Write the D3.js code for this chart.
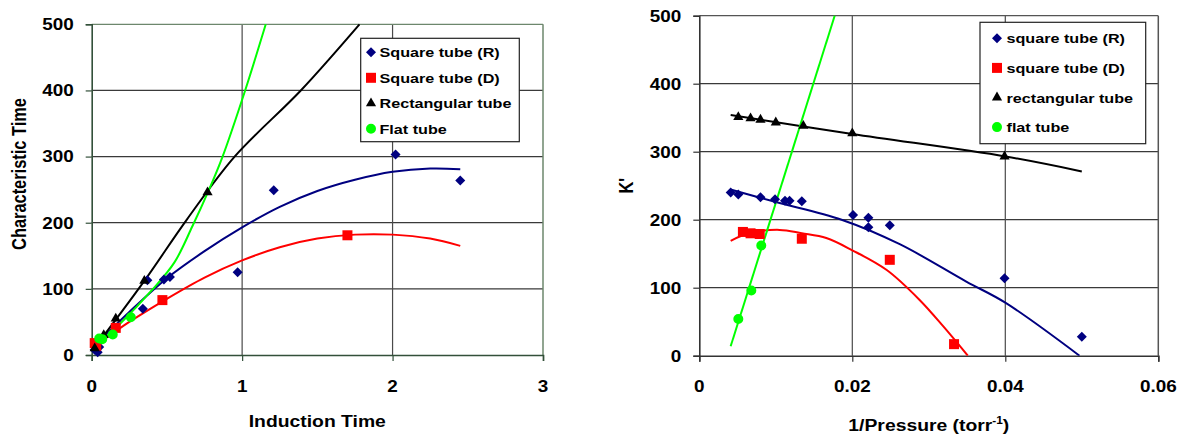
<!DOCTYPE html>
<html>
<head>
<meta charset="utf-8">
<script src="https://cdn.jsdelivr.net/npm/d3@7"></script>
<style>
  body { margin: 0; background: #fff; }
  text { font-family: "Liberation Sans", Arial, sans-serif; font-weight: bold; fill: #000; }
</style>
</head>
<body>
<svg width="1191" height="439"></svg>
<script>
  // ---- left panel: characteristic time vs induction time ----
  var indTicksX = [0, 1, 2, 3];
  var indTicksY = [0, 100, 200, 300, 400, 500];
  var indSqR = [[0.02, 8], [0.04, 4], [0.05, 12], [0.34, 70], [0.37, 113], [0.48, 114], [0.52, 118], [0.97, 125], [1.21, 249], [2.02, 303], [2.45, 264]];
  var indSqD = [[0.02, 18], [0.03, 14], [0.16, 41], [0.47, 83], [1.70, 181]];
  var indRect = [[0.02, 10], [0.08, 30], [0.16, 55], [0.35, 112], [0.77, 246]];
  var indFlat = [[0.05, 25], [0.07, 24], [0.14, 31], [0.26, 57]];
  var indFitR = [[0, 10], [0.25, 65], [0.5, 116], [0.75, 157], [1.0, 193], [1.25, 224], [1.5, 248], [1.75, 265], [2.0, 277], [2.25, 282], [2.45, 281]];
  var indFitD = [[0, 10], [0.25, 50], [0.5, 85], [0.75, 117], [1.0, 143], [1.25, 163], [1.5, 176], [1.75, 182], [2.0, 182], [2.25, 176], [2.45, 165]];
  var indFitRect = [[0, 5], [0.35, 112], [0.63, 204], [0.95, 300], [1.39, 400], [1.78, 500]];
  var indFitFlat = [[0.03, 15], [0.2, 50], [0.4, 98], [0.55, 140], [0.67, 195], [0.78, 250], [0.87, 300], [1.02, 400], [1.157, 500]];
  var indNames = ["Square tube (R)", "Square tube (D)", "Rectangular tube", "Flat tube"];

  // ---- right panel: K' vs 1/pressure ----
  var presTicksX = [0, 0.02, 0.04, 0.06];
  var presTicksY = [0, 100, 200, 300, 400, 500];
  var presSqR = [[0.0041, 240], [0.0051, 237], [0.0080, 233], [0.0099, 230], [0.0112, 228], [0.0118, 228], [0.0134, 227], [0.0201, 207], [0.0221, 203], [0.0221, 189], [0.0249, 192], [0.0399, 114], [0.050, 28]];
  var presSqD = [[0.0057, 182], [0.0067, 180], [0.0079, 179], [0.0134, 172], [0.0249, 141], [0.0333, 17]];
  var presRect = [[0.0051, 351], [0.0067, 349], [0.0080, 347], [0.0100, 343], [0.0136, 338], [0.0200, 327], [0.0399, 293]];
  var presFlat = [[0.0051, 54], [0.0068, 96], [0.0081, 162]];
  var presFitR = [[0.0042, 244], [0.01, 226], [0.0186, 200], [0.0262, 164], [0.0349, 109], [0.04, 78], [0.0497, 0]];
  var presFitD = [[0.0041, 169], [0.0065, 180], [0.0105, 185], [0.0134, 180], [0.0166, 173], [0.0200, 155], [0.0245, 126], [0.0288, 82], [0.0319, 43], [0.0351, 0]];
  var presFitRect = [[0.0041, 354], [0.02, 326], [0.04, 293], [0.05, 271]];
  var presFitFlat = [[0.0041, 14], [0.0177, 500]];
  var presNames = ["square tube (R)", "square tube (D)", "rectangular tube", "flat tube"];

  var colors = ["#000080", "#ff0000", "#000000", "#00ff00"];
  var shapes = ["diamond", "square", "triangle", "circle"];
  var sx = 1.18; // the reference is stretched sideways

  var svg = d3.select("svg");

  function marker( shape, r )
  {
    if ( shape == "diamond" ) return d3.symbol( d3.symbolSquare, r * r * 0.5 )();
    if ( shape == "square" ) return d3.symbol( d3.symbolSquare, r * r )();
    if ( shape == "triangle" ) return d3.symbol( d3.symbolTriangle, r * r * 0.45 )();
    return d3.symbol( d3.symbolCircle, r * r * 0.785 )();
  }

  function hText( g, x, y, str, size, anchor )
  {
    return g.append("text")
        .attr("transform", "translate(" + x + "," + y + ") scale(" + sx + ",1)")
        .attr("text-anchor", anchor)
        .style("font-size", size + "px")
        .text(str);
  }

  function panel( p )
  {
    var x = d3.scaleLinear().domain(p.xDomain).range([p.left, p.right]);
    var y = d3.scaleLinear().domain([0, 500]).range([p.bottom, p.top]);
    var g = svg.append("g");
    var clipId = "clip" + p.id;

    g.append("clipPath").attr("id", clipId)
        .append("rect")
        .attr("x", p.left).attr("y", p.top - 1)
        .attr("width", p.right - p.left).attr("height", p.bottom - p.top + 1);

    // grid
    g.selectAll("line.hg").data(p.yTicks.slice(1, -1)).enter()
        .append("line")
        .attr("x1", p.left).attr("x2", p.right)
        .attr("y1", function ( d ) { return y(d); })
        .attr("y2", function ( d ) { return y(d); })
        .attr("stroke", "#3a3a3a").attr("stroke-width", 1.2);
    g.selectAll("line.vg").data(p.xTicks.slice(1, -1)).enter()
        .append("line")
        .attr("y1", p.top).attr("y2", p.bottom)
        .attr("x1", function ( d ) { return x(d); })
        .attr("x2", function ( d ) { return x(d); })
        .attr("stroke", "#4a4a4a").attr("stroke-width", 1.2);

    // frame
    g.append("line").attr("x1", p.left).attr("x2", p.right).attr("y1", p.top).attr("y2", p.top)
        .attr("stroke", p.frameColor).attr("stroke-width", 1.3);
    g.append("line").attr("x1", p.right).attr("x2", p.right).attr("y1", p.top).attr("y2", p.bottom)
        .attr("stroke", p.frameColor).attr("stroke-width", 1.5);

    // axes
    var yAxis = d3.axisLeft(y).tickValues(p.yTicks).tickSize(6).tickFormat("");
    var xAxis = d3.axisBottom(x).tickValues(p.xTicks).tickSize(6).tickFormat("");
    var ya = g.append("g").attr("transform", "translate(" + p.left + ",0)").call(yAxis);
    var xa = g.append("g").attr("transform", "translate(0," + p.bottom + ")").call(xAxis);
    [ya, xa].forEach(function ( a )
    {
      a.select(".domain").attr("stroke", p.axisColor).attr("stroke-width", 1.6);
      a.selectAll(".tick line").attr("stroke", p.axisColor).attr("stroke-width", 1.2);
    });

    p.yTicks.forEach(function ( t )
    {
      hText(g, p.left - 18, y(t) + 5.8, t, 16, "end");
    });
    p.xTicks.forEach(function ( t )
    {
      hText(g, x(t), p.bottom + 36.5, p.xFormat(t), 16, "middle");
    });

    // trend lines
    var line = d3.line()
        .x(function ( d ) { return x(d[0]); })
        .y(function ( d ) { return y(d[1]); })
        .curve(d3.curveCatmullRom);
    g.selectAll("path.fit").data(p.fits).enter()
        .append("path")
        .attr("clip-path", "url(#" + clipId + ")")
        .attr("d", line)
        .attr("fill", "none")
        .attr("stroke", function ( d, i ) { return colors[i]; })
        .attr("stroke-width", 2);

    // data markers
    p.series.forEach(function ( s, i )
    {
      g.selectAll("path.m" + i).data(s).enter()
          .append("path")
          .attr("d", marker(shapes[i], 10))
          .attr("transform", function ( d )
          {
            return "translate(" + x(d[0]) + "," + y(d[1]) + ")" + (shapes[i] == "diamond" ? " rotate(45)" : "");
          })
          .attr("fill", colors[i]);
    });

    // legend
    var lg = g.append("g");
    lg.append("rect")
        .attr("x", p.legend.x).attr("y", p.legend.y)
        .attr("width", p.legend.w).attr("height", p.legend.h)
        .attr("fill", "#fff").attr("stroke", "#222").attr("stroke-width", 1.2);
    p.names.forEach(function ( n, i )
    {
      var cy = p.legend.y + p.legend.first + i * p.legend.step;
      lg.append("path")
          .attr("d", marker(shapes[i], 10))
          .attr("transform", "translate(" + p.legend.mx + "," + cy + ")" + (shapes[i] == "diamond" ? " rotate(45)" : ""))
          .attr("fill", colors[i]);
      hText(lg, p.legend.tx, cy + 5, n, 13.7, "start");
    });

    return { x: x, y: y, g: g };
  }

  var left = panel({
    id: "L",
    left: 91.7, right: 543, top: 24.3, bottom: 355,
    xDomain: [0, 3], xTicks: indTicksX, yTicks: indTicksY,
    xFormat: function ( d ) { return d; },
    axisColor: "#33503a", frameColor: "#6d876d",
    fits: [indFitR, indFitD, indFitRect, indFitFlat],
    series: [indSqR, indSqD, indRect, indFlat],
    names: indNames,
    legend: { x: 360.7, y: 38.3, w: 158.6, h: 103.4, first: 14, step: 25.5, mx: 371, tx: 379.5 }
  });

  var right = panel({
    id: "R",
    left: 699.3, right: 1158.3, top: 15.7, bottom: 355.7,
    xDomain: [0, 0.06], xTicks: presTicksX, yTicks: presTicksY,
    xFormat: function ( d ) { return d == 0 ? "0" : d3.format(".2f")(d); },
    axisColor: "#333", frameColor: "#555",
    fits: [presFitR, presFitD, presFitRect, presFitFlat],
    series: [presSqR, presSqD, presRect, presFlat],
    names: presNames,
    legend: { x: 980, y: 22.3, w: 165.7, h: 121.4, first: 16, step: 29.6, mx: 997, tx: 1006.5 }
  });

  // axis titles
  hText(svg, 317.3, 427, "Induction Time", 16.4, "middle");
  svg.append("text")
      .attr("transform", "translate(26,174) scale(" + sx + ",1) rotate(-90)")
      .attr("text-anchor", "middle")
      .style("font-size", "16.4px")
      .text("Characteristic Time");

  var pt = hText(svg, 928.8, 431, "1/Pressure (torr", 16.4, "middle");
  pt.append("tspan").attr("dy", -7).style("font-size", "10px").text("-1");
  pt.append("tspan").attr("dy", 7).text(")");

  svg.append("text")
      .attr("transform", "translate(633,185.7) scale(" + sx + ",1) rotate(-90)")
      .attr("text-anchor", "middle")
      .style("font-size", "16.4px")
      .text("K'");
</script>
</body>
</html>
